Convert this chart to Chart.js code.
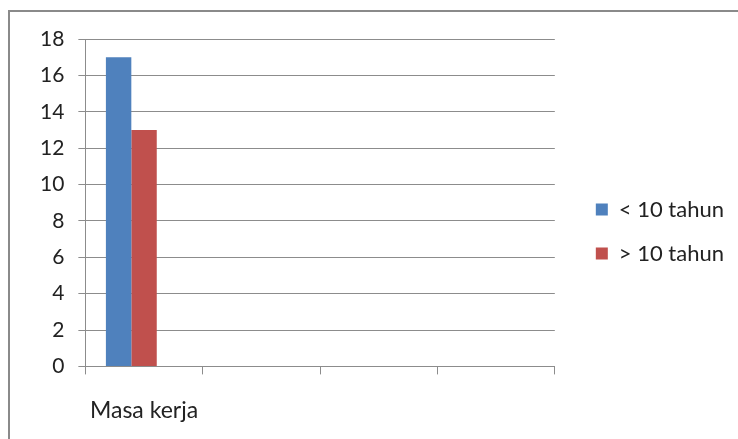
<!DOCTYPE html>
<html>
<head>
<meta charset="utf-8">
<script src="https://cdn.jsdelivr.net/npm/chart.js@4"></script>
<style>
  html, body { margin: 0; padding: 0; background: #fff; }
  body { width: 738px; height: 439px; position: relative; overflow: hidden; }
  .frame {
    position: absolute; left: 8px; top: 10px; width: 760px; height: 460px;
    border-top: 2px solid #8a8a8a; border-left: 2px solid #8a8a8a;
  }
  #wrap { position: absolute; left: 0; top: 0; width: 738px; height: 439px; }
</style>
</head>
<body>
<div class="frame"></div>
<div id="wrap"><canvas id="chart"></canvas></div>
<script>
// ==============================
// DATA
// ==============================
const categories = ["Masa kerja", "", "", ""];
const lessThan10 = [17, null, null, null];
const moreThan10 = [13, null, null, null];
const yTicks = [0, 2, 4, 6, 8, 10, 12, 14, 16, 18];

const BLUE = "#4F81BD";
const RED = "#C0504D";
const GRID = "#8c8c8c";
const FONT = "Lato, 'Open Sans', sans-serif";

// legend sits a bit further from the plot (and higher) than chart.js puts it
const legendShift = {
  id: "legendShift",
  afterLayout(chart) {
    const lg = chart.legend;
    lg.left += 19;
    lg.right += 19;
    lg.top -= 11;
    lg.bottom -= 11;
  }
};

// ==============================
// CHART
// ==============================
const ctx = document.getElementById("chart").getContext("2d");

new Chart(ctx, {
  type: "bar",
  data: {
    labels: categories,
    datasets: [
      { label: "< 10 tahun", data: lessThan10, backgroundColor: BLUE },
      { label: "> 10 tahun", data: moreThan10, backgroundColor: RED },
      // third, empty series slot: the pair sits left of the category centre
      { label: "", data: [null, null, null, null], backgroundColor: "transparent" }
    ]
  },
  options: {
    responsive: true,
    maintainAspectRatio: false,
    animation: false,
    devicePixelRatio: 1,
    layout: { padding: { left: 26, top: 39, right: 23, bottom: -7 } },
    datasets: {
      bar: { categoryPercentage: 0.65, barPercentage: 1 }
    },
    plugins: {
      tooltip: { enabled: false },
      legend: {
        position: "right",
        labels: {
          filter: item => item.text !== "",
          boxWidth: 12,
          boxHeight: 12,
          padding: 22,
          color: "#222",
          font: { family: FONT, size: 22 }
        }
      }
    },
    scales: {
      x: {
        offset: true,
        grid: {
          offset: true,
          drawOnChartArea: false,
          drawTicks: true,
          tickLength: 8,
          color: GRID
        },
        border: { color: GRID, width: 1 },
        ticks: {
          padding: 22,
          color: "#222",
          font: { family: FONT, size: 23 },
          maxRotation: 0
        }
      },
      y: {
        min: 0,
        max: 18,
        afterBuildTicks: axis => { axis.ticks = yTicks.map(v => ({ value: v })); },
        grid: { color: GRID, tickLength: 7 },
        border: { color: GRID, width: 1 },
        ticks: {
          padding: 14,
          color: "#222",
          font: { family: FONT, size: 21 }
        }
      }
    }
  },
  plugins: [legendShift]
});
</script>
</body>
</html>
